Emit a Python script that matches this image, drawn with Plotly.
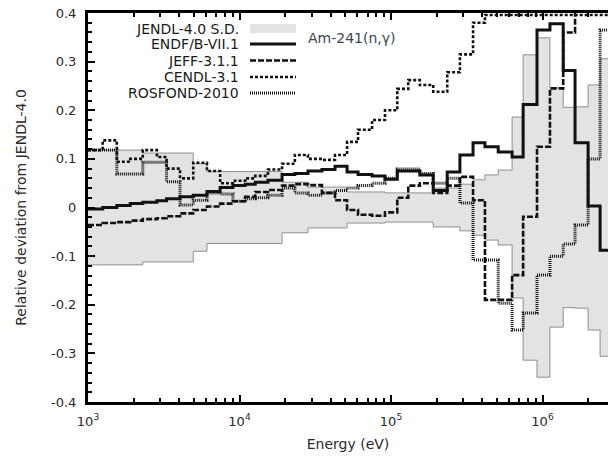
import plotly.graph_objects as go

# Group boundaries (eV) shared by all evaluations
E_EDGES = [1000, 1250, 1550, 1900, 2300, 2850, 3300, 4050, 4950, 6100, 7450, 9050,
           10900, 12700, 15400, 19100, 23200, 28300, 35000, 42700, 51300, 60600,
           75000, 91300, 110000, 130000, 155000, 190000, 235000, 285000, 348000,
           417000, 510000, 630000, 745000, 920000, 1120000, 1370000, 1640000,
           2000000, 2400000, 2900000]

# JENDL-4.0 relative standard deviation per group
JENDL_SD = [0.118, 0.118, 0.118, 0.118, 0.112, 0.112, 0.112, 0.112, 0.09, 0.074,
            0.074, 0.074, 0.074, 0.074, 0.074, 0.052, 0.052, 0.042, 0.042, 0.042,
            0.032, 0.032, 0.032, 0.03, 0.03, 0.03, 0.03, 0.04, 0.04, 0.048,
            0.057, 0.067, 0.077, 0.186, 0.314, 0.349, 0.246, 0.206, 0.207, 0.252,
            0.306]

# Relative deviation of other libraries from JENDL-4.0 per group
ENDF_B71 = [-0.003, 0.0, 0.004, 0.008, 0.011, 0.014, 0.018, 0.022, 0.025, 0.033,
            0.041, 0.045, 0.048, 0.052, 0.056, 0.068, 0.07, 0.075, 0.078, 0.085,
            0.073, 0.068, 0.065, 0.058, 0.075, 0.075, 0.067, 0.035, 0.073, 0.108,
            0.133, 0.125, 0.114, 0.104, 0.212, 0.365, 0.378, 0.282, 0.133, 0.003,
            -0.088]

JEFF_311 = [-0.036, -0.032, -0.03, -0.027, -0.024, -0.022, -0.018, -0.012, -0.005, 0.002,
            0.008, 0.013, 0.022, 0.032, 0.036, 0.045, 0.048, 0.046, 0.03, 0.015,
            -0.005, -0.015, -0.017, -0.01, 0.02, 0.045, 0.05, 0.03, 0.045, 0.063,
            0.015, -0.19, -0.19, -0.139, -0.019, 0.125, 0.245, 0.36, 0.45, 0.45,
            0.45]

CENDL_31 = [0.118, 0.138, 0.094, 0.1, 0.118, 0.104, 0.08, 0.06, 0.092, 0.075,
            0.05, 0.055, 0.06, 0.065, 0.078, 0.09, 0.108, 0.1, 0.098, 0.108,
            0.135, 0.16, 0.18, 0.2, 0.244, 0.262, 0.252, 0.238, 0.278, 0.315,
            0.38, 0.396, 0.396, 0.396, 0.396, 0.396, 0.396, 0.396, 0.396, 0.396,
            0.396]

ROSFOND_2010 = [0.118, 0.118, 0.069, 0.069, 0.093, 0.093, 0.053, 0.005, 0.015, 0.03,
                0.028, 0.013, 0.018, 0.02, 0.025, 0.04, 0.03, 0.025, 0.03, 0.035,
                0.04, 0.045, 0.05, 0.06, 0.079, 0.079, 0.07, 0.05, 0.06, 0.009,
                -0.108, -0.108, -0.197, -0.252, -0.217, -0.139, -0.1, -0.075, -0.036, 0.1,
                0.365]

Y_TICKS = [-0.4, -0.3, -0.2, -0.1, 0, 0.1, 0.2, 0.3, 0.4]
Y_TICK_TEXT = ["-0.4", "-0.3", "-0.2", "-0.1", "0", "0.1", "0.2", "0.3", "0.4"]
X_TICKS = [1e3, 1e4, 1e5, 1e6]
X_TICK_TEXT = ["10<sup>3</sup>", "10<sup>4</sup>", "10<sup>5</sup>", "10<sup>6</sup>"]

FONT = "DejaVu Sans"
W, H = 608, 459
ML, MR, MT, MB = 88, 0, 13, 57
PW, PH = W - ML - MR, H - MT - MB


def steps(vals):
    # step histogram: each value held across its group
    return list(vals) + [vals[-1]]


fig = go.Figure()

# +/- 1 sigma band of JENDL-4.0
fig.add_trace(go.Scatter(x=E_EDGES, y=steps(JENDL_SD), mode="lines", line_shape="hv",
                         line=dict(color="#8f8f8f", width=1), showlegend=False,
                         hoverinfo="skip"))
fig.add_trace(go.Scatter(x=E_EDGES, y=steps([-v for v in JENDL_SD]), mode="lines",
                         line_shape="hv", fill="tonexty", fillcolor="#e3e3e3",
                         line=dict(color="#8f8f8f", width=1), showlegend=False,
                         hoverinfo="skip"))

LINE_ENDF = dict(color="#111111", width=3)
LINE_JEFF = dict(color="#111111", width=2.6, dash="6px,2px")
LINE_CENDL = dict(color="#111111", width=2.6, dash="3px,2px")
LINE_ROSFOND = dict(color="#111111", width=3, dash="1px,1px")

for name, vals, ln in [("ROSFOND-2010", ROSFOND_2010, LINE_ROSFOND),
                       ("CENDL-3.1", CENDL_31, LINE_CENDL),
                       ("JEFF-3.1.1", JEFF_311, LINE_JEFF),
                       ("ENDF/B-VII.1", ENDF_B71, LINE_ENDF)]:
    fig.add_trace(go.Scatter(x=E_EDGES, y=steps(vals), mode="lines", line_shape="hv",
                             line=ln, name=name, showlegend=False))


def px_x(p):
    return (p - ML) / PW


def px_y(p):
    return (H - MB - p) / PH


# key drawn with text to the left of each sample
key = [
    ("JENDL-4.0 S.D.", None),
    ("ENDF/B-VII.1", LINE_ENDF),
    ("JEFF-3.1.1", LINE_JEFF),
    ("CENDL-3.1", LINE_CENDL),
    ("ROSFOND-2010", LINE_ROSFOND),
]
rows = [28.5, 44, 60.5, 77, 93]
shapes = []
annotations = []
for (label, ln), ry in zip(key, rows):
    annotations.append(dict(x=px_x(241), y=px_y(ry), xref="paper", yref="paper",
                            text=label, showarrow=False, xanchor="right",
                            yanchor="middle", font=dict(family=FONT, size=14,
                                                        color="#1a1a1a")))
    if ln is None:
        shapes.append(dict(type="rect", xref="paper", yref="paper",
                           x0=px_x(250), x1=px_x(296), y0=px_y(24), y1=px_y(33),
                           fillcolor="#e3e3e3", line=dict(width=0)))
    else:
        shapes.append(dict(type="line", xref="paper", yref="paper",
                           x0=px_x(250), x1=px_x(296), y0=px_y(ry), y1=px_y(ry),
                           line=ln))

annotations.append(dict(x=px_x(306), y=px_y(38), xref="paper", yref="paper",
                        text="Am-241(n,γ)", showarrow=False, xanchor="left",
                        yanchor="middle",
                        font=dict(family=FONT, size=14, color="#3d4657")))

minor_x = [k * 10 ** d for d in range(3, 7) for k in range(2, 10) if k * 10 ** d < 2.8e6]

fig.update_layout(
    width=W, height=H,
    margin=dict(l=ML, r=MR, t=MT, b=MB, pad=0),
    paper_bgcolor="white", plot_bgcolor="white",
    font=dict(family=FONT, size=13, color="#2a2a2a"),
    shapes=shapes, annotations=annotations,
    xaxis=dict(type="log", range=[3, 3 + (W - ML - MR) / 151.5],
               tickvals=X_TICKS, ticktext=X_TICK_TEXT,
               ticks="inside", ticklen=7, tickwidth=2, tickcolor="black",
               showline=True, linewidth=3, linecolor="black", mirror="ticks",
               showgrid=False, zeroline=False,
               minor=dict(tickvals=minor_x, ticks="inside", ticklen=4,
                          tickwidth=2, tickcolor="black", showgrid=False),
               ticklabelstandoff=5,
               tickfont=dict(family=FONT, size=13, color="#2a2a2a"),
               title=dict(text="Energy (eV)", standoff=12,
                          font=dict(family=FONT, size=14, color="#2a2a2a"))),
    yaxis=dict(range=[-0.4, 0.4], tickvals=Y_TICKS, ticktext=Y_TICK_TEXT,
               ticks="inside", ticklen=7, tickwidth=2, tickcolor="black",
               showline=True, linewidth=3, linecolor="black",
               showgrid=False, zeroline=False,
               minor=dict(dtick=0.02, tick0=0, ticks="inside", ticklen=4,
                          tickwidth=2, tickcolor="black", showgrid=False),
               ticklabelstandoff=6,
               tickfont=dict(family=FONT, size=13, color="#2a2a2a"),
               title=dict(text="Relative deviation from JENDL-4.0", standoff=22,
                          font=dict(family=FONT, size=14, color="#2a2a2a"))),
)

fig.write_html("out.html")
